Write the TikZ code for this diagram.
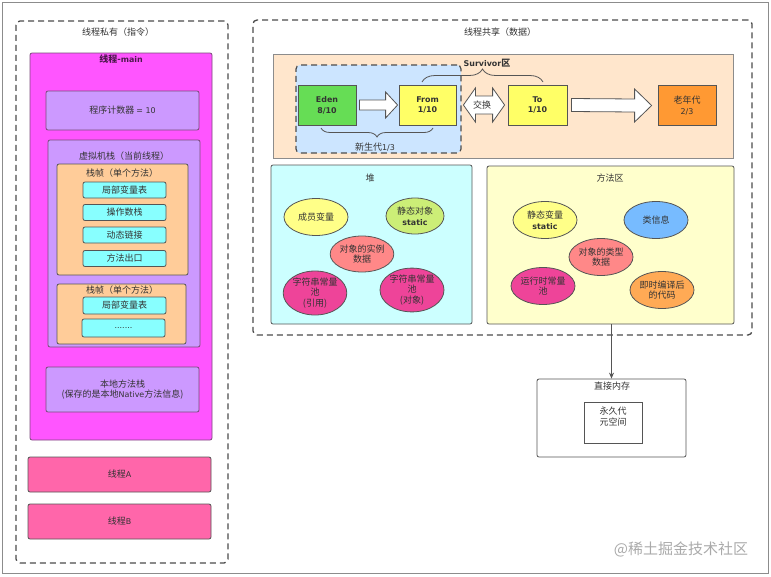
\documentclass[tikz,border=0pt]{standalone}
\usepackage{fontspec}
\setmainfont{Noto Sans CJK SC}
\newfontfamily\latf{DejaVu Sans}[Scale=0.88]
\newcommand{\lat}[1]{{\latf #1}}
\usetikzlibrary{decorations.pathreplacing,arrows.meta,shapes.geometric,calc}
\definecolor{txt}{HTML}{333333}
\definecolor{bd}{HTML}{555555}
\definecolor{bdP}{HTML}{7A4A7A}
\definecolor{cMain}{HTML}{FF55FF}
\definecolor{cLav}{HTML}{CC99FF}
\definecolor{cPeach}{HTML}{FFCC99}
\definecolor{cCyan}{HTML}{88FFFF}
\definecolor{cPink}{HTML}{FF66AA}
\definecolor{cGen}{HTML}{FFE6CC}
\definecolor{cYoung}{HTML}{CCE5FF}
\definecolor{cEden}{HTML}{66DD55}
\definecolor{cYel}{HTML}{FFFF66}
\definecolor{cOld}{HTML}{FF9933}
\definecolor{cHeap}{HTML}{CCFFFF}
\definecolor{cMeth}{HTML}{FFFFCC}
\definecolor{eYel}{HTML}{FFFF88}
\definecolor{eGrn}{HTML}{CCEE77}
\definecolor{eSal}{HTML}{FF8888}
\definecolor{eMag}{HTML}{EE4499}
\definecolor{eBlu}{HTML}{77BBFF}
\definecolor{eOrg}{HTML}{FFAA55}
\definecolor{wm}{HTML}{AAAAAA}
\begin{document}
\begin{tikzpicture}[x=1pt,y=-1pt,
  font=\fontsize{9}{10.8}\selectfont, text=txt,
  box/.style={draw=bd, line width=0.8pt, rounded corners=2pt, inner sep=0pt, align=center},
  pbox/.style={box, draw=bdP},
  dbox/.style={draw=bd!90!black, line width=1.3pt, dash pattern=on 6pt off 4pt, rounded corners=4pt, inner sep=0pt},
  ell/.style={ellipse, draw=bd, line width=0.8pt, inner sep=0pt, align=center},
  lbl/.style={inner sep=1pt, align=center},
  blk/.style={draw=bd, line width=0.8pt, fill=white, line join=miter},
  brc/.style={draw=bd, line width=0.8pt, decorate},
  bf/.style={font=\fontsize{9}{10.8}\selectfont\bfseries},
]
\useasboundingbox (0,0) rectangle (771,576);
\fill[white] (0,0) rectangle (771,576);
\node[draw=black!45, line width=1pt, inner sep=0pt, minimum width=766pt, minimum height=571pt] (frame) at (385,287.5) {};

% ---------- left: thread private ----------
\node[dbox, minimum width=212pt, minimum height=542pt] (lpriv) at (122,292) {};
\node[lbl] (lprivT) at (118,32) {线程私有（指令）};

\node[pbox, fill=cMain, minimum width=182pt, minimum height=387pt] (main) at (121,246.5) {};
\node[lbl, bf, text=black!70!cMain] (mainT) at (121,59) {线程-\lat{main}};

\node[pbox, fill=cLav, minimum width=153pt, minimum height=39pt] (pc) at (122.5,110.5) {程序计数器 \lat{= 10}};

\node[pbox, fill=cLav, minimum width=152pt, minimum height=207pt] (vms) at (124,243.5) {};
\node[lbl] (vmsT) at (124,156) {虚拟机栈（当前线程）};

\node[box, fill=cPeach, minimum width=131pt, minimum height=111pt] (fr1) at (122.5,219.5) {};
\node[lbl] (fr1T) at (122,173) {栈帧（单个方法）};
\node[box, fill=cCyan, minimum width=83pt, minimum height=16pt] (c1) at (124.5,190) {局部变量表};
\node[box, fill=cCyan, minimum width=83pt, minimum height=16pt] (c2) at (124.5,212.5) {操作数栈};
\node[box, fill=cCyan, minimum width=83pt, minimum height=16pt] (c3) at (124.5,235) {动态链接};
\node[box, fill=cCyan, minimum width=83pt, minimum height=16pt] (c4) at (124.5,258.5) {方法出口};

\node[box, fill=cPeach, minimum width=129pt, minimum height=60pt] (fr2) at (121.5,314) {};
\node[lbl] (fr2T) at (122,290) {栈帧（单个方法）};
\node[box, fill=cCyan, minimum width=83pt, minimum height=17pt] (c5) at (124.5,305.5) {局部变量表};
\node[box, fill=cCyan, minimum width=83pt, minimum height=18pt] (c6) at (123.5,328) {\lat{.......}};

\node[pbox, fill=cLav, minimum width=153pt, minimum height=45pt] (nat) at (122.5,389.5) {本地方法栈\\(保存的是本地\lat{Native}方法信息)};

\node[box, fill=cPink, minimum width=183pt, minimum height=35pt] (thA) at (119.5,474.5) {线程\lat{A}};
\node[box, fill=cPink, minimum width=183pt, minimum height=35pt] (thB) at (119.5,521.5) {线程\lat{B}};

% ---------- right: thread shared ----------
\node[dbox, minimum width=499pt, minimum height=315pt] (rshare) at (502.5,177.5) {};
\node[lbl] (rshareT) at (500,32) {线程共享（数据）};

\node[draw=black!45, line width=0.8pt, fill=cGen, inner sep=0pt, minimum width=460pt, minimum height=104pt] (gen) at (503,106) {};
\node[dbox, line width=1.2pt, fill=cYoung, minimum width=165pt, minimum height=88pt] (young) at (378.5,109) {};

\node[box, rounded corners=0pt, fill=cEden, bf, minimum width=58pt, minimum height=40pt] (eden) at (327,105) {\lat{Eden}\\\lat{8/10}};
\node[box, rounded corners=0pt, fill=cYel, bf, minimum width=57pt, minimum height=40pt] (from) at (427.5,105) {\lat{From}\\\lat{1/10}};
\node[box, rounded corners=0pt, fill=cYel, bf, minimum width=59pt, minimum height=40pt] (to) at (537.5,105) {\lat{To}\\\lat{1/10}};
\node[box, rounded corners=0pt, fill=cOld, minimum width=58pt, minimum height=40pt] (old) at (687,105.5) {老年代\\\lat{2/3}};

% block arrow Eden -> From
\draw[blk] ($(eden.east)+(3,-5)$) -- ($(from.west)+(-13,-5)$) -- ($(from.west)+(-13,-13)$)
  -- ($(from.west)+(-1,0)$) -- ($(from.west)+(-13,13)$) -- ($(from.west)+(-13,5)$)
  -- ($(eden.east)+(3,5)$) -- cycle;
% block arrow To -> old
\draw[blk] ($(to.east)+(4,-6.5)$) -- ($(old.west)+(-23,-6.5)$) -- ($(old.west)+(-23,-16.5)$)
  -- ($(old.west)+(-6,0)$) -- ($(old.west)+(-23,16.5)$) -- ($(old.west)+(-23,6.5)$)
  -- ($(to.east)+(4,6.5)$) -- cycle;
% double arrow From <-> To
\draw[blk] ($(from.east)+(7,0)$) -- ($(from.east)+(19,-17)$) -- ($(from.east)+(19,-9)$)
  -- ($(to.west)+(-15,-9)$) -- ($(to.west)+(-15,-17)$) -- ($(to.west)+(-3,0)$)
  -- ($(to.west)+(-15,17)$) -- ($(to.west)+(-15,9)$) -- ($(from.east)+(19,9)$)
  -- ($(from.east)+(19,17)$) -- cycle;
\node[lbl] (swap) at ($(from.east)!0.5!(to.west)+(0,0)$) {交换};

% braces
\coordinate (bL) at (321,128);
\coordinate (bR) at (433,128);
\draw[brc, decoration={brace, amplitude=9pt}] (bR) -- (bL);
\node[lbl] (youngT) at (375,147) {新生代\lat{1/3}};
\coordinate (sL) at (422,82);
\coordinate (sR) at (543,82);
\draw[brc, decoration={brace, amplitude=13pt}] (sL) -- (sR);
\node[lbl, bf] (survT) at (487,63) {\lat{Survivor}区};

% heap
\node[box, fill=cHeap, minimum width=201pt, minimum height=159pt] (heap) at (371.5,244.5) {};
\node[lbl] (heapT) at (370,178) {堆};
\node[ell, fill=eYel, minimum width=64pt, minimum height=37pt] (h1) at (316,217) {成员变量};
\node[ell, fill=eGrn, minimum width=58pt, minimum height=36pt] (h2) at (415,216) {静态对象\\\textbf{\lat{static}}};
\node[ell, fill=eSal, minimum width=60pt, minimum height=36pt] (h3) at (362,254) {对象的实例\\数据};
\node[ell, fill=eMag, minimum width=60pt, minimum height=44pt] (h4) at (315,293) {字符串常量\\池\\(引用)};
\node[ell, fill=eMag, minimum width=64pt, minimum height=40pt] (h5) at (412,290) {字符串常量\\池\\(对象)};

% method area
\node[box, fill=cMeth, minimum width=247pt, minimum height=158pt] (meth) at (610.5,245) {};
\node[lbl] (methT) at (610,178) {方法区};
\node[ell, fill=eYel, minimum width=64pt, minimum height=37pt] (m1) at (545,220) {静态变量\\\textbf{\lat{static}}};
\node[ell, fill=eBlu, minimum width=64pt, minimum height=37pt] (m2) at (656,220) {类信息};
\node[ell, fill=eSal, minimum width=64pt, minimum height=37pt] (m3) at (601,257) {对象的类型\\数据};
\node[ell, fill=eMag, minimum width=64pt, minimum height=37pt] (m4) at (543,286) {运行时常量\\池};
\node[ell, fill=eOrg, minimum width=64pt, minimum height=37pt] (m5) at (662,290) {即时编译后\\的代码};

% direct memory
\node[box, fill=white, minimum width=149pt, minimum height=78pt] (direct) at (611.5,418) {};
\node[lbl] (directT) at (612,386) {直接内存};
\node[box, rounded corners=0pt, fill=white, minimum width=58pt, minimum height=41pt] (perm) at (613,422.5) {};
\node[lbl] (permT) at (613,416.5) {永久代\\元空间};
\draw[bd, line width=0.8pt, -{Stealth[length=6pt,width=5pt]}] (meth.south -| direct.north) -- (direct.north);

% watermark
\node[lbl, text=wm, font=\fontsize{15}{18}\selectfont] (wmark) at (681,549) {@稀土掘金技术社区};
\end{tikzpicture}
\end{document}
